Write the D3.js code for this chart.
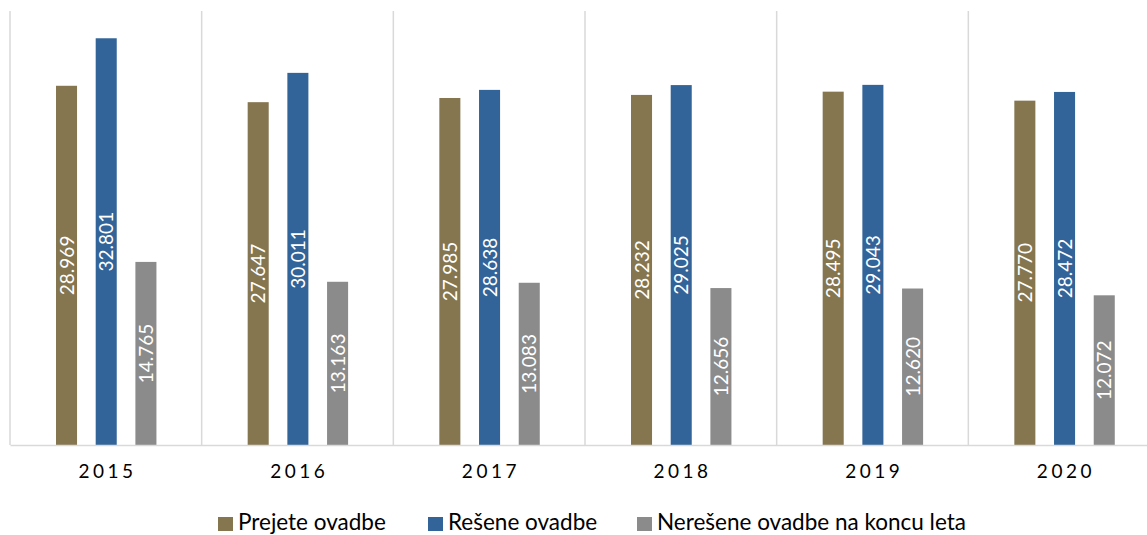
<!DOCTYPE html>
<html>
<head>
<meta charset="utf-8">
<script src="https://cdn.jsdelivr.net/npm/d3@7"></script>
<style>
  body { margin: 0; background: #fff; overflow: hidden; }
  text { font-family: Lato, "Open Sans", sans-serif; }
</style>
</head>
<body>
<script>
// Chart data
var years = ["2015", "2016", "2017", "2018", "2019", "2020"];
var seriesNames = ["Prejete ovadbe", "Rešene ovadbe", "Nerešene ovadbe na koncu leta"];
var prejete = [28969, 27647, 27985, 28232, 28495, 27770];
var resene = [32801, 30011, 28638, 29025, 29043, 28472];
var neresene = [14765, 13163, 13083, 12656, 12620, 12072];
var colors = ["#857650", "#32649a", "#8b8b8b"];

var svgWidth = 1147;
var svgHeight = 535;
var margin = { top: 11, bottom: 90, left: 10 };
// the plot area runs a bit past the right edge of the picture
var chartWidth = 1150;
var chartHeight = svgHeight - margin.top - margin.bottom;

var svg = d3.select("body").append("svg")
  .attr("width", svgWidth)
  .attr("height", svgHeight);

var chartGroup = svg.append("g")
  .attr("transform", `translate(${margin.left}, ${margin.top})`);

// build rows for the grouped bars
var rows = years.map((y, i) => ({ year: y, values: [prejete[i], resene[i], neresene[i]] }));

var x0 = d3.scaleBand().domain(years).range([0, chartWidth]);
var x1 = d3.scaleBand().domain([0, 1, 2]).range([x0.bandwidth() * 0.24, x0.bandwidth() * 0.764]).paddingInner(0.47);
var yScale = d3.scaleLinear().domain([0, 35000]).range([chartHeight, 0]);

// vertical separators between categories
var bounds = years.map(y => x0(y)).concat([chartWidth]);
chartGroup.selectAll(".sep").data(bounds).enter().append("line")
  .attr("x1", d => d).attr("x2", d => d)
  .attr("y1", 0).attr("y2", chartHeight)
  .attr("stroke", "#d9d9d9").attr("stroke-width", 1.5);

var groups = chartGroup.selectAll(".grp").data(rows).enter().append("g")
  .attr("transform", d => `translate(${x0(d.year)},0)`);

groups.selectAll("rect").data(d => d.values).enter().append("rect")
  .attr("x", (d, i) => x1(i))
  .attr("width", x1.bandwidth())
  .attr("y", d => yScale(d))
  .attr("height", d => chartHeight - yScale(d))
  .attr("fill", (d, i) => colors[i]);

var fmt = d3.format(",");
groups.selectAll(".lbl").data(d => d.values).enter().append("text")
  .attr("transform", (d, i) => `translate(${x1(i) + x1.bandwidth() / 2 + 7},${(yScale(d) + chartHeight) / 2}) rotate(-90)`)
  .attr("text-anchor", "middle")
  .attr("fill", "#fff")
  .attr("font-size", 19)
  .text(d => fmt(d).replace(",", "."));

// bottom axis
var bottomAxis = d3.axisBottom(x0).tickSize(0).tickPadding(20);
var axisG = chartGroup.append("g")
  .attr("transform", `translate(0, ${chartHeight})`)
  .call(bottomAxis);
axisG.select(".domain").attr("stroke", "#d9d9d9").attr("stroke-width", 1.5);
axisG.selectAll("text")
  .attr("font-size", 19)
  .attr("fill", "#000")
  .attr("letter-spacing", "3.5px")
  .attr("dx", "1.75px")
  .style("font-family", "Lato, sans-serif");

// legend
var legendX = [218, 428, 637];
var legend = svg.selectAll(".leg").data(seriesNames).enter().append("g")
  .attr("transform", (d, i) => `translate(${legendX[i]}, 517)`);
legend.append("rect").attr("width", 15).attr("height", 14).attr("fill", (d, i) => colors[i]);
legend.append("text")
  .attr("x", 20).attr("y", 13)
  .attr("font-size", 22.5)
  .attr("fill", "#000")
  .text(d => d);
</script>
</body>
</html>
